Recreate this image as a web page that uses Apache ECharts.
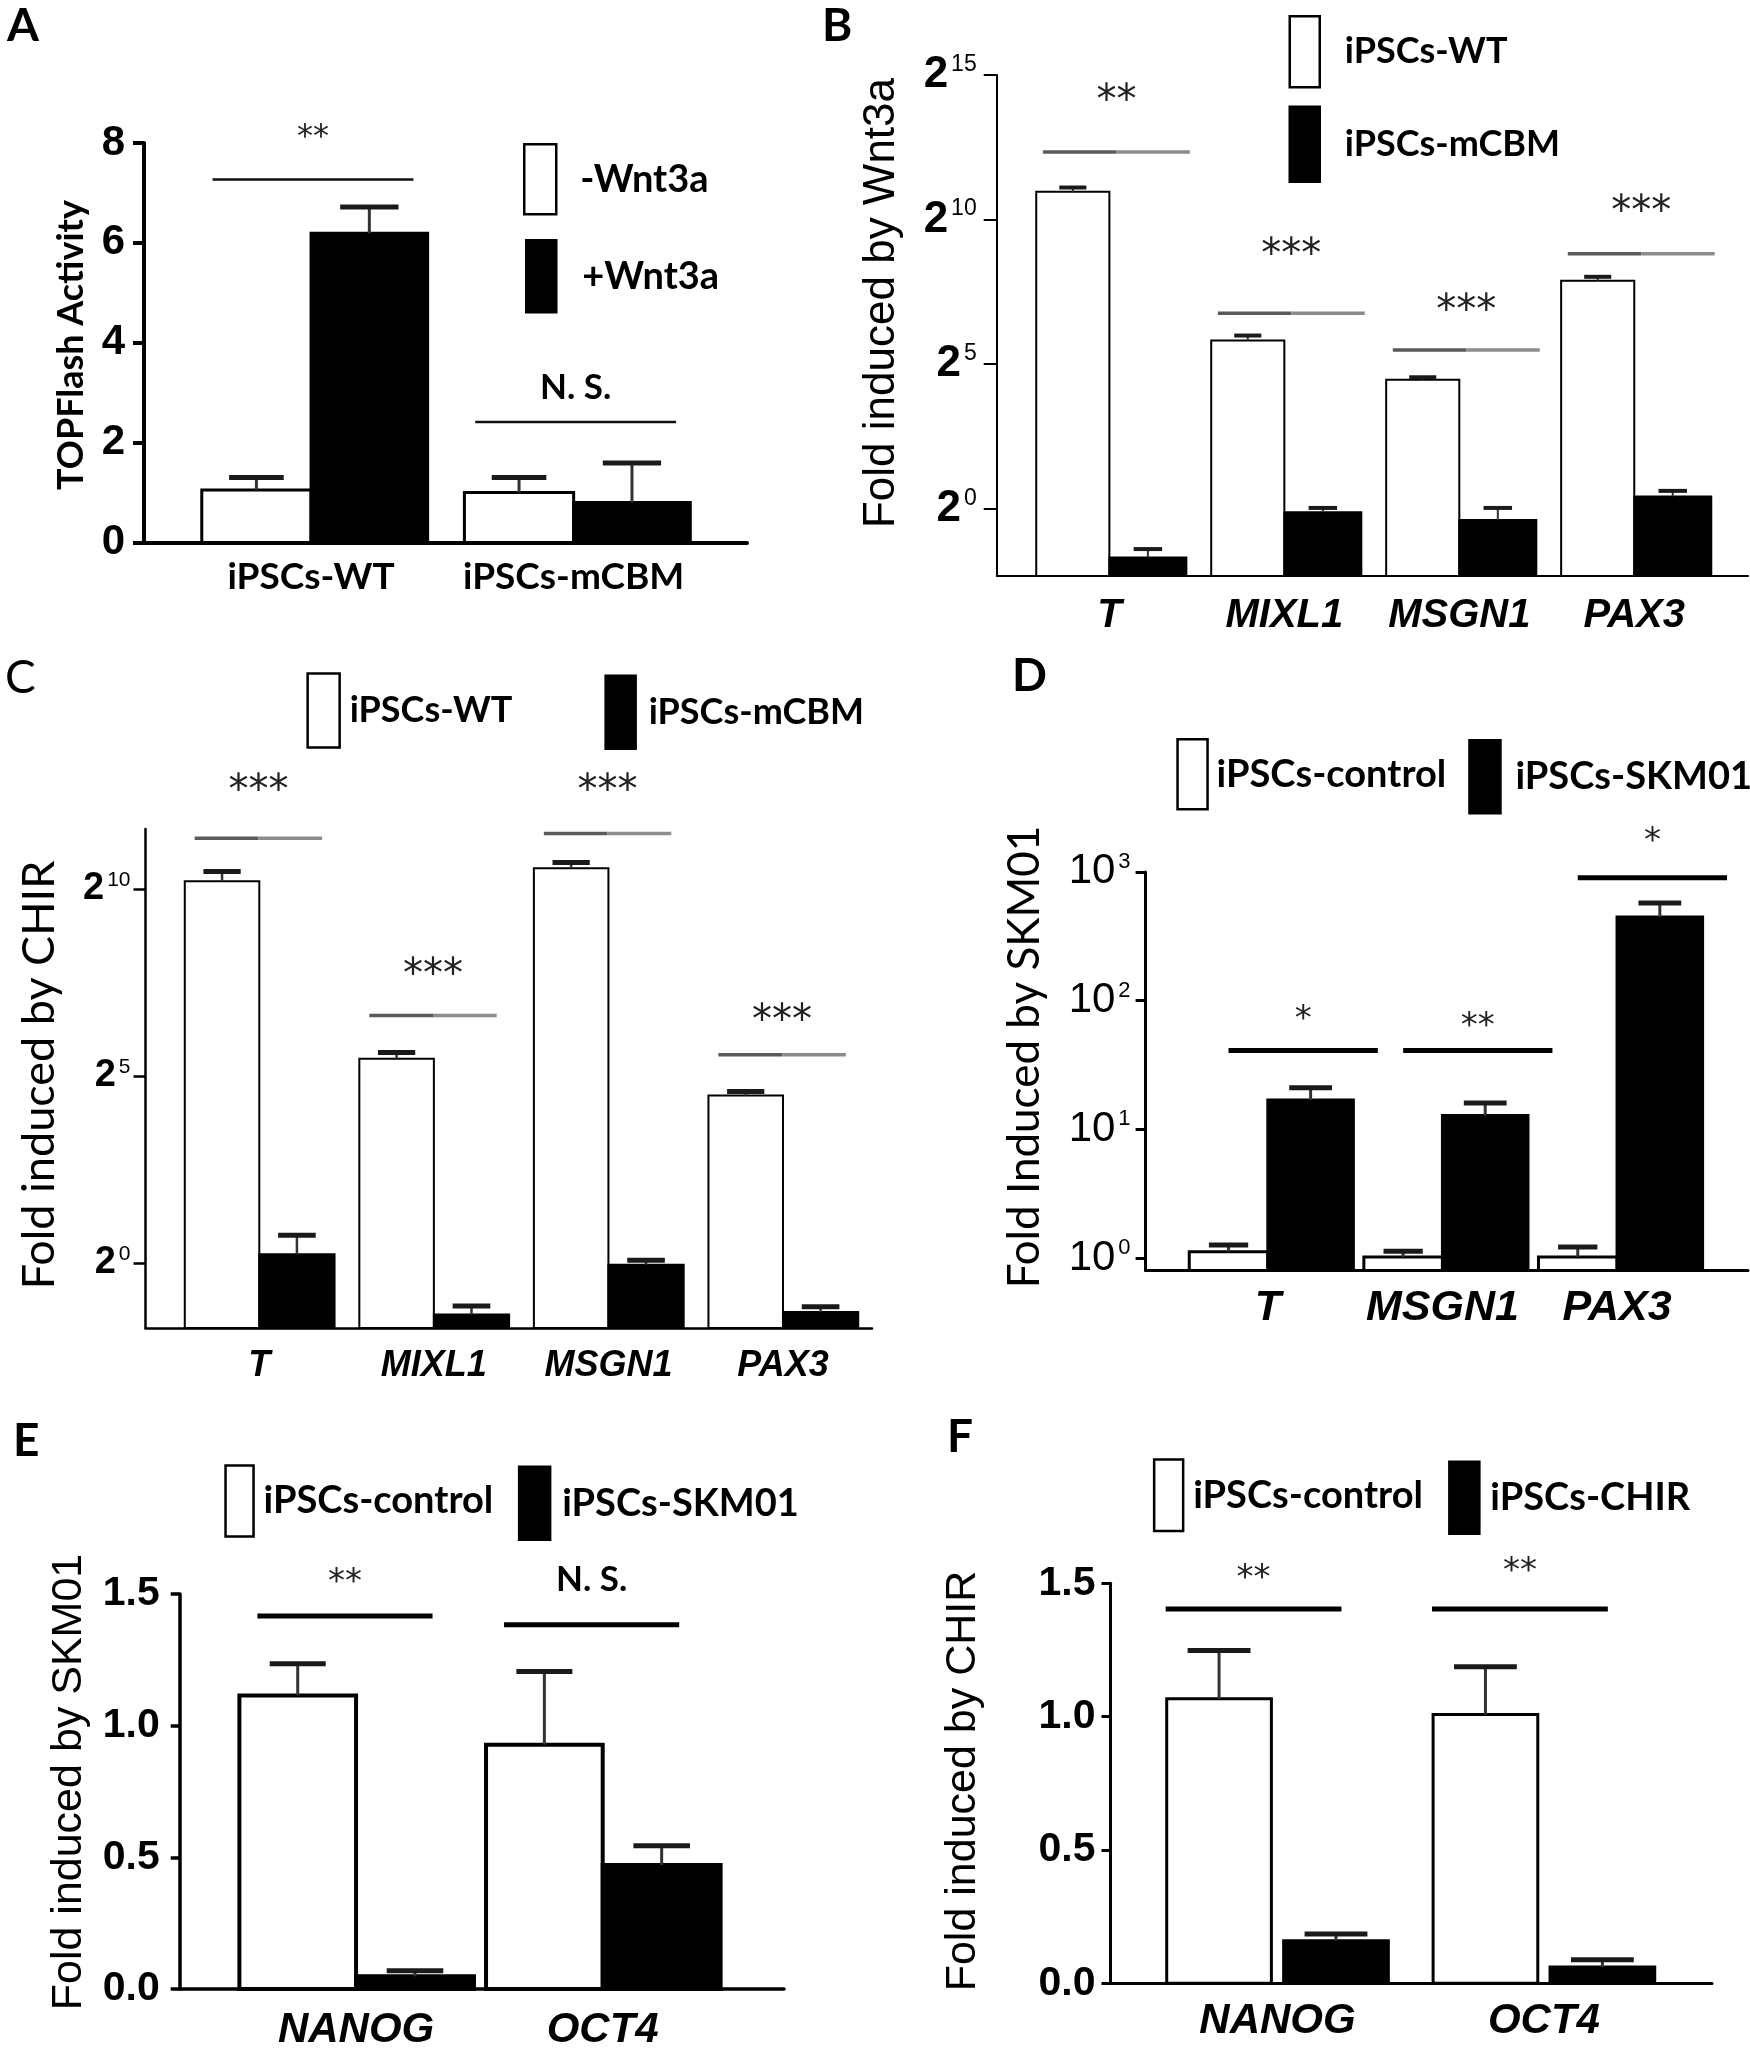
<!DOCTYPE html>
<html><head><meta charset="utf-8">
<script src="https://cdn.jsdelivr.net/npm/echarts@6/dist/echarts.min.js"></script>
<style>html,body{margin:0;padding:0;background:#fff}#c{width:1750px;height:2051px}</style>
</head><body><div id="c"></div><script>
// ---------------- DATA ----------------
// Panel A (linear)
const aCategories = ['iPSCs-WT', 'iPSCs-mCBM'];
const aSeriesNames = ['-Wnt3a', '+Wnt3a'];
const aMinus = [1.05, 1.00];
const aMinusErr = [1.30, 1.30];
const aPlus = [6.19, 0.80];
const aPlusErr = [6.72, 1.59];
const aSigLevel = [7.27, 2.41];
const aSigText = ['**', 'N. S.'];
const aSigTextLevel = [8.27, 3.13];
const aTicks = [0, 2, 4, 6, 8];

// Panel B (log2 axis)
const bCategories = ['T', 'MIXL1', 'MSGN1', 'PAX3'];
const bSeriesNames = ['iPSCs-WT', 'iPSCs-mCBM'];
const bWT = [1992, 56.5, 22.0, 237];
const bWTErr = [2210, 63.6, 23.4, 260];
const bMCBM = [0.312, 0.920, 0.763, 1.347];
const bMCBMErr = [0.381, 1.021, 1.021, 1.537];
const bSigLevel = [5183, 108.4, 44.9, 452];
const bSigText = ['**', '***', '***', '***'];
const bSigTextLevel = [21300, 534, 140, 1520];
const bTickExponents = [0, 5, 10, 15];

// Panel C (log2 axis)
const cCategories = ['T', 'MIXL1', 'MSGN1', 'PAX3'];
const cSeriesNames = ['iPSCs-WT', 'iPSCs-mCBM'];
const cWT = [1176, 44.0, 1499, 22.2];
const cWTErr = [1409, 49.2, 1663, 23.9];
const cMCBM = [1.173, 0.384, 0.966, 0.403];
const cMCBMErr = [1.670, 0.451, 1.050, 0.444];
const cSigLevel = [2610, 97.7, 2856, 47.2];
const cSigText = ['***', '***', '***', '***'];
const cSigTextLevel = [7331, 240.5, 7331, 104];
const cTickExponents = [0, 5, 10];

// Panel D (log10 axis)
const dCategories = ['T', 'MSGN1', 'PAX3'];
const dSeriesNames = ['iPSCs-control', 'iPSCs-SKM01'];
const dControl = [1.12, 1.02, 1.02];
const dControlErr = [1.26, 1.13, 1.22];
const dSKM01 = [16.9, 12.8, 447];
const dSKM01Err = [21.0, 16.0, 572];
const dSigLevel = [41, 41, 902];
const dSigText = ['*', '**', '*'];
const dSigTextLevel = [82.2, 73, 1995];
const dTickExponents = [0, 1, 2, 3];

// Panel E (linear)
const eCategories = ['NANOG', 'OCT4'];
const eSeriesNames = ['iPSCs-control', 'iPSCs-SKM01'];
const eControl = [1.115, 0.928];
const eControlErr = [1.235, 1.206];
const eSKM01 = [0.048, 0.471];
const eSKM01Err = [0.069, 0.544];
const eSigLevel = [1.416, 1.383];
const eSigText = ['**', 'N. S.'];
const eSigTextLevel = [1.573, 1.562];
const eTicks = [0, 0.5, 1.0, 1.5];

// Panel F (linear)
const fCategories = ['NANOG', 'OCT4'];
const fSeriesNames = ['iPSCs-control', 'iPSCs-CHIR'];
const fControl = [1.067, 1.008];
const fControlErr = [1.248, 1.187];
const fCHIR = [0.160, 0.061];
const fCHIRErr = [0.185, 0.088];
const fSigLevel = [1.404, 1.404];
const fSigText = ['**', '**'];
const fSigTextLevel = [1.548, 1.572];
const fTicks = [0, 0.5, 1.0, 1.5];

// ---------------- STYLE / LAYOUT ----------------
const F_LATO = "Lato, 'Open Sans', sans-serif";
const F_LIB = "'Liberation Sans', Arial, sans-serif";
const F_NARROW = "'Liberation Sans Narrow', 'Liberation Sans', Arial, sans-serif";
const F_DJV = "'DejaVu Sans', sans-serif";

const grids = [], xAxes = [], yAxes = [], series = [], legends = [], graphics = [];

function addPanel(p) {
  const gi = grids.length;
  const toAxis = p.log ? (v => Math.log(v) / Math.log(p.log)) : (v => v);
  const yBase = p.yRange[0];
  grids.push({ left: p.box[0], top: p.box[1], width: p.box[2] - p.box[0], height: p.box[3] - p.box[1] });
  xAxes.push({
    gridIndex: gi, type: 'value', min: p.xRange[0], max: p.xRange[1],
    axisLine: { show: true, onZero: false, lineStyle: { color: '#000', width: p.axisW } },
    axisTick: { show: false }, splitLine: { show: false },
    axisLabel: {
      customValues: p.cats.map((c, i) => i),
      formatter: v => p.cats[Math.round(v)] || '',
      margin: p.xLabel.margin, color: '#000', fontSize: p.xLabel.size, fontWeight: 'bold',
      fontStyle: p.xLabel.italic ? 'italic' : 'normal', fontFamily: p.xLabel.font
    }
  });
  yAxes.push({
    gridIndex: gi, type: 'value', min: p.yRange[0], max: p.yRange[1],
    axisLine: { show: true, onZero: false, lineStyle: { color: '#000', width: p.axisW } },
    axisTick: { show: true, length: p.tickLen, customValues: p.ticks, lineStyle: { color: '#000', width: p.axisW } },
    splitLine: { show: false },
    axisLabel: Object.assign({ customValues: p.ticks, margin: p.yLabel.margin, color: '#000' }, p.yLabel.opts)
  });

  const mkBar = (name, vals, off, fill) => ({
    type: 'custom', name, xAxisIndex: gi, yAxisIndex: gi, clip: false, z: 2,
    data: vals.map((v, i) => [i, toAxis(v)]),
    itemStyle: { color: fill },
    renderItem: (params, api) => {
      const i = api.value(0), v = api.value(1);
      const a = api.coord([i + off[0], v]);
      const b = api.coord([i + off[1], yBase]);
      return { type: 'rect', shape: { x: a[0], y: a[1], width: b[0] - a[0], height: b[1] - a[1] },
        style: { fill, stroke: '#000', lineWidth: p.barStroke } };
    }
  });
  const mkErr = (vals, errs, off) => ({
    type: 'custom', xAxisIndex: gi, yAxisIndex: gi, clip: false, z: 3, silent: true,
    data: vals.map((v, i) => [i, toAxis(v), toAxis(errs[i])]),
    renderItem: (params, api) => {
      const i = api.value(0);
      const l = api.coord([i + off[0], api.value(1)]);
      const r = api.coord([i + off[1], api.value(1)]);
      const t = api.coord([i + (off[0] + off[1]) / 2, api.value(2)]);
      const half = (r[0] - l[0]) * p.capFrac / 2;
      return { type: 'group', children: [
        { type: 'line', shape: { x1: t[0], y1: l[1], x2: t[0], y2: t[1] }, style: { stroke: '#333', lineWidth: p.stemW } },
        { type: 'line', shape: { x1: t[0] - half, y1: t[1], x2: t[0] + half, y2: t[1] }, style: { stroke: '#1a1a1a', lineWidth: p.capW } }
      ] };
    }
  });
  series.push(mkBar(p.names[0], p.white, p.whiteOff, '#fff'));
  series.push(mkBar(p.names[1], p.black, p.blackOff, '#000'));
  series.push(mkErr(p.white, p.whiteErr, p.whiteOff));
  series.push(mkErr(p.black, p.blackErr, p.blackOff));

  series.push({
    type: 'custom', xAxisIndex: gi, yAxisIndex: gi, clip: false, z: 4, silent: true,
    data: p.sigLevel.map((v, i) => [i, toAxis(v), toAxis(p.sigTextLevel[i])]),
    renderItem: (params, api) => {
      const i = api.value(0);
      const a = api.coord([i + p.sigSpan[0], api.value(1)]);
      const b = api.coord([i + p.sigSpan[1], api.value(1)]);
      const txt = p.sigText[params.dataIndex];
      const isStar = /^\*+$/.test(txt);
      const fs = isStar ? p.starSize : p.nsSize;
      const tp = api.coord([i + (p.sigSpan[0] + p.sigSpan[1]) / 2, api.value(2)]);
      const children = [];
      if (p.twoTone) {
        const m = (a[0] + b[0]) / 2;
        children.push({ type: 'line', shape: { x1: a[0], y1: a[1], x2: m, y2: a[1] }, style: { stroke: '#5a5a5a', lineWidth: p.sigW } });
        children.push({ type: 'line', shape: { x1: m, y1: a[1], x2: b[0], y2: a[1] }, style: { stroke: '#8c8c8c', lineWidth: p.sigW } });
      } else {
        children.push({ type: 'line', shape: { x1: a[0], y1: a[1], x2: b[0], y2: a[1] }, style: { stroke: p.sigColor, lineWidth: p.sigW } });
      }
      children.push({ type: 'text', style: {
        text: txt, x: tp[0], y: tp[1] + (isStar ? 0.25 : 0.05) * fs,
        fontSize: fs, fontFamily: isStar ? p.starFont : F_LATO, fontWeight: isStar ? 'normal' : 'bold',
        fill: isStar ? '#222' : '#000', align: 'center', verticalAlign: 'middle' } });
      return { type: 'group', children };
    }
  });

  // y title
  graphics.push({ type: 'text', x: p.yTitle.x, y: p.yTitle.y, rotation: Math.PI / 2,
    style: { text: p.yTitle.text, fontSize: p.yTitle.size, fontFamily: p.yTitle.font, fontWeight: p.yTitle.weight || 'normal',
      fill: '#000', align: 'center', verticalAlign: 'middle' } });
  // panel letter
  graphics.push({ type: 'text', x: p.letter.x, y: p.letter.y,
    style: { text: p.letter.text, fontSize: 46, fontFamily: F_LATO, fontWeight: p.letter.weight || 'bold', fill: '#000', align: 'left', verticalAlign: 'middle' } });
  // legends
  p.legend.forEach((L, k) => {
    legends.push({ left: L[0], top: L[1], padding: 0, itemGap: 0, icon: 'rect', itemWidth: L[2], itemHeight: L[3],
      selectedMode: false,
      data: [{ name: p.names[k], itemStyle: { color: k === 0 ? '#fff' : '#000', borderColor: '#000', borderWidth: 2.5 } }],
      textStyle: { color: '#000', fontSize: p.legendSize, fontWeight: 'bold', fontFamily: F_LATO, padding: [0, 0, 0, L[4] - 5] } });
  });
}

function supFormatter(base) { return v => `{b|${base}}{s|${Math.round(v)}}`; }
function supRich(size, supSize, weight, font) {
  return {
    b: { fontSize: size, fontWeight: weight, fontFamily: font || F_LIB, color: '#000' },
    s: { fontSize: supSize, fontFamily: F_LIB, color: '#000', verticalAlign: 'top', padding: [0, 0, 0, 3] }
  };
}

// Panel A
addPanel({
  cats: aCategories, names: aSeriesNames, white: aMinus, whiteErr: aMinusErr, black: aPlus, blackErr: aPlusErr,
  sigLevel: aSigLevel, sigText: aSigText, sigTextLevel: aSigTextLevel, ticks: aTicks,
  box: [144, 143, 747, 542.4], xRange: [-0.636, 1.66], yRange: [0, 8],
  axisW: 4, tickLen: 11, barStroke: 3, whiteOff: [-0.416, 0], blackOff: [0, 0.444],
  capFrac: 0.5, stemW: 3, capW: 5, sigSpan: [-0.375, 0.39], sigColor: '#111', sigW: 2.5, twoTone: false,
  starSize: 32, starFont: F_DJV, nsSize: 35,
  xLabel: { margin: 16, size: 37, font: F_LATO, italic: false },
  yLabel: { margin: 19, opts: { fontSize: 42, fontWeight: 'bold', fontFamily: F_NARROW } },
  yTitle: { text: 'TOPFlash Activity', x: 71, y: 345, size: 36, font: F_LATO, weight: 'bold' },
  letter: { text: 'A', x: 7, y: 26 },
  legend: [[523, 143, 32, 70, 24], [525, 239, 30, 72, 26]], legendSize: 38
});

// Panel B
addPanel({
  cats: bCategories, names: bSeriesNames, white: bWT, whiteErr: bWTErr, black: bMCBM, blackErr: bMCBMErr,
  sigLevel: bSigLevel, sigText: bSigText, sigTextLevel: bSigTextLevel, ticks: bTickExponents, log: 2,
  box: [996.7, 75, 1748, 575.9], xRange: [-0.644, 3.65], yRange: [-2.32, 15],
  axisW: 2, tickLen: 13, barStroke: 2, whiteOff: [-0.418, 0], blackOff: [0, 0.44],
  capFrac: 0.37, stemW: 2, capW: 4, sigSpan: [-0.38, 0.46], sigW: 3.5, twoTone: true,
  starSize: 40, starFont: F_DJV, nsSize: 35,
  xLabel: { margin: 20, size: 40, font: F_LIB, italic: true },
  yLabel: { margin: 20, opts: { formatter: supFormatter('2'), rich: supRich(44, 23, 'bold') } },
  yTitle: { text: 'Fold induced by Wnt3a', x: 882, y: 303, size: 44, font: F_LIB },
  letter: { text: 'B', x: 822, y: 26 },
  legend: [[1288.5, 15, 30, 71, 25], [1288.5, 105.4, 30, 75, 25]], legendSize: 36
});

// Panel C
addPanel({
  cats: cCategories, names: cSeriesNames, white: cWT, whiteErr: cWTErr, black: cMCBM, blackErr: cMCBMErr,
  sigLevel: cSigLevel, sigText: cSigText, sigTextLevel: cSigTextLevel, ticks: cTickExponents, log: 2,
  box: [145.5, 828.9, 872, 1328], xRange: [-0.652, 3.51], yRange: [-1.74, 11.6],
  axisW: 2.5, tickLen: 12, barStroke: 2, whiteOff: [-0.427, 0], blackOff: [0, 0.431],
  capFrac: 0.5, stemW: 2.5, capW: 5, sigSpan: [-0.37, 0.36], sigW: 3.5, twoTone: true,
  starSize: 40, starFont: F_DJV, nsSize: 35,
  xLabel: { margin: 20, size: 36, font: F_LIB, italic: true },
  yLabel: { margin: 15, opts: { formatter: supFormatter('2'), rich: supRich(38, 21, 'bold') } },
  yTitle: { text: 'Fold induced by CHIR', x: 39, y: 1075, size: 45, font: F_LATO },
  letter: { text: 'C', x: 5, y: 678, weight: 'normal' },
  legend: [[306.4, 672.3, 32, 74, 10], [604.4, 674.6, 30, 73, 13]], legendSize: 36
});

// Panel D
addPanel({
  cats: dCategories, names: dSeriesNames, white: dControl, whiteErr: dControlErr, black: dSKM01, blackErr: dSKM01Err,
  sigLevel: dSigLevel, sigText: dSigText, sigTextLevel: dSigTextLevel, ticks: dTickExponents, log: 10,
  box: [1145.6, 871.9, 1748, 1270.5], xRange: [-0.70, 2.75], yRange: [-0.097, 3],
  axisW: 3, tickLen: 10, barStroke: 3, whiteOff: [-0.45, 0], blackOff: [0, 0.49],
  capFrac: 0.5, stemW: 3, capW: 5, sigSpan: [-0.225, 0.63], sigColor: '#000', sigW: 5, twoTone: false,
  starSize: 34, starFont: F_DJV, nsSize: 35,
  xLabel: { margin: 16, size: 43, font: F_LIB, italic: true },
  yLabel: { margin: 15, opts: { formatter: supFormatter('10'), rich: supRich(42, 22, 'normal') } },
  yTitle: { text: 'Fold Induced by SKM01', x: 1025, y: 1057, size: 44, font: F_LATO },
  letter: { text: 'D', x: 1012, y: 676 },
  legend: [[1176.3, 738, 30, 70, 9], [1468.2, 739, 31, 73, 15]], legendSize: 38
});

// Panel E
addPanel({
  cats: eCategories, names: eSeriesNames, white: eControl, whiteErr: eControlErr, black: eSKM01, blackErr: eSKM01Err,
  sigLevel: eSigLevel, sigText: eSigText, sigTextLevel: eSigTextLevel, ticks: eTicks,
  box: [179.7, 1594, 784, 1993.2], xRange: [-0.715, 1.735], yRange: [0, 1.5],
  axisW: 3.5, tickLen: 9, barStroke: 4, whiteOff: [-0.473, 0], blackOff: [0, 0.478],
  capFrac: 0.48, stemW: 3, capW: 5, sigSpan: [-0.40, 0.31], sigColor: '#000', sigW: 5, twoTone: false,
  starSize: 34, starFont: F_DJV, nsSize: 35,
  xLabel: { margin: 20, size: 42, font: F_LIB, italic: true },
  yLabel: { margin: 20, opts: { formatter: v => v.toFixed(1), fontSize: 41, fontWeight: 'bold', fontFamily: F_LIB } },
  yTitle: { text: 'Fold induced by SKM01', x: 69, y: 1782, size: 43, font: F_LIB },
  letter: { text: 'E', x: 13, y: 1441 },
  legend: [[224.3, 1464.3, 28, 71, 10], [517.9, 1465.6, 31, 73, 12]], legendSize: 38
});

// Panel F
addPanel({
  cats: fCategories, names: fSeriesNames, white: fControl, whiteErr: fControlErr, black: fCHIR, blackErr: fCHIRErr,
  sigLevel: fSigLevel, sigText: fSigText, sigTextLevel: fSigTextLevel, ticks: fTicks,
  box: [1110.5, 1583.3, 1712, 1983.3], xRange: [-0.627, 1.631], yRange: [0, 1.5],
  axisW: 3, tickLen: 9, barStroke: 3, whiteOff: [-0.416, -0.023], blackOff: [0.023, 0.416],
  capFrac: 0.6, stemW: 3, capW: 5, sigSpan: [-0.42, 0.24], sigColor: '#000', sigW: 5, twoTone: false,
  starSize: 34, starFont: F_DJV, nsSize: 35,
  xLabel: { margin: 17, size: 42, font: F_LIB, italic: true },
  yLabel: { margin: 15, opts: { formatter: v => v.toFixed(1), fontSize: 41, fontWeight: 'bold', fontFamily: F_LIB } },
  yTitle: { text: 'Fold induced by CHIR', x: 963, y: 1781, size: 43, font: F_LIB },
  letter: { text: 'F', x: 947, y: 1437 },
  legend: [[1152.9, 1458.3, 29, 71.5, 10], [1448.1, 1460.4, 30, 72, 11]], legendSize: 38
});

const chart = echarts.init(document.getElementById('c'), null, { renderer: 'canvas' });
chart.setOption({
  backgroundColor: '#fff',
  animation: false,
  grid: grids, xAxis: xAxes, yAxis: yAxes, series, legend: legends,
  graphic: { elements: graphics }
});
</script></body></html>
